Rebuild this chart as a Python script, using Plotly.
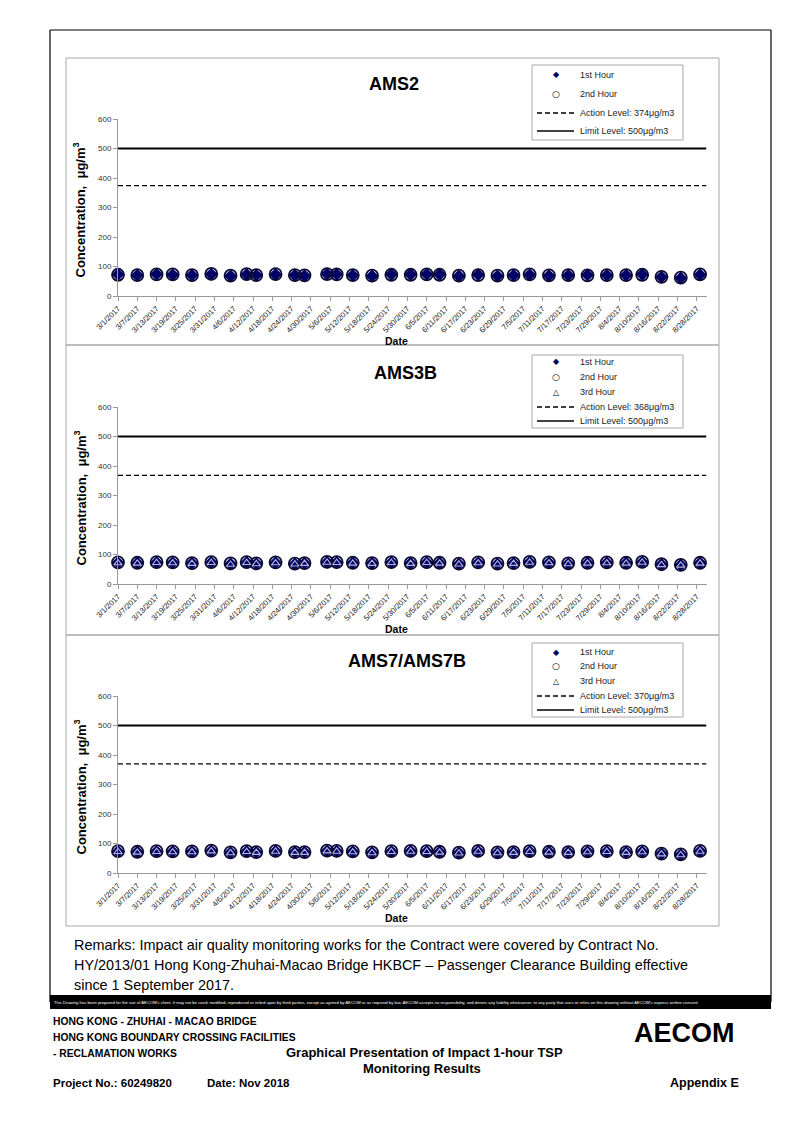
import plotly.graph_objects as go
import pandas as pd

# ---------------- data ----------------
sample_dates = ["3/1/2017", "3/7/2017", "3/13/2017", "3/18/2017", "3/24/2017", "3/30/2017",
                "4/5/2017", "4/10/2017", "4/13/2017", "4/19/2017", "4/25/2017", "4/28/2017",
                "5/5/2017", "5/8/2017", "5/13/2017", "5/19/2017", "5/25/2017", "5/31/2017",
                "6/5/2017", "6/9/2017", "6/15/2017", "6/21/2017", "6/27/2017", "7/2/2017",
                "7/7/2017", "7/13/2017", "7/19/2017", "7/25/2017", "7/31/2017", "8/6/2017",
                "8/11/2017", "8/17/2017", "8/23/2017", "8/29/2017"]

tick_labels = ["3/1/2017", "3/7/2017", "3/13/2017", "3/19/2017", "3/25/2017", "3/31/2017",
               "4/6/2017", "4/12/2017", "4/18/2017", "4/24/2017", "4/30/2017", "5/6/2017",
               "5/12/2017", "5/18/2017", "5/24/2017", "5/30/2017", "6/5/2017", "6/11/2017",
               "6/17/2017", "6/23/2017", "6/29/2017", "7/5/2017", "7/11/2017", "7/17/2017",
               "7/23/2017", "7/29/2017", "8/4/2017", "8/10/2017", "8/16/2017", "8/22/2017",
               "8/28/2017"]

ams2_h1 = [73, 70, 74, 72, 70, 74, 68, 73, 70, 73, 70, 69, 75, 74, 70, 68, 73, 73,
           74, 73, 68, 72, 68, 70, 72, 69, 70, 71, 70, 70, 73, 64, 61, 72]
ams2_h2 = [72, 71, 73, 73, 71, 75, 69, 74, 71, 74, 71, 70, 74, 73, 71, 69, 72, 72,
           73, 72, 69, 71, 69, 71, 73, 70, 71, 70, 71, 71, 72, 65, 62, 73]

ams3b_h1 = [72, 71, 73, 72, 70, 73, 68, 73, 69, 72, 68, 70, 74, 73, 71, 70, 73, 70,
            73, 71, 68, 72, 68, 70, 74, 72, 69, 71, 72, 71, 74, 66, 64, 71]
ams3b_h2 = [73, 72, 74, 73, 71, 74, 70, 74, 70, 73, 69, 71, 75, 74, 72, 71, 74, 71,
            74, 72, 69, 73, 69, 71, 75, 73, 70, 72, 73, 72, 75, 67, 65, 72]
ams3b_h3 = [71, 70, 72, 71, 69, 72, 66, 72, 68, 71, 67, 69, 73, 72, 70, 69, 72, 69,
            72, 70, 67, 71, 67, 69, 73, 71, 68, 70, 71, 70, 73, 65, 63, 70]

ams7_h1 = [73, 71, 73, 72, 72, 75, 69, 73, 70, 74, 70, 70, 75, 74, 72, 69, 73, 74,
           73, 71, 68, 74, 69, 70, 73, 71, 70, 72, 73, 70, 72, 65, 62, 74]
ams7_h2 = [74, 72, 74, 73, 73, 76, 70, 74, 71, 75, 71, 71, 76, 75, 73, 70, 74, 75,
           74, 72, 69, 75, 70, 71, 74, 72, 71, 73, 74, 71, 73, 66, 63, 75]
ams7_h3 = [72, 70, 72, 71, 71, 74, 68, 72, 69, 73, 69, 69, 74, 73, 71, 68, 72, 73,
           72, 70, 67, 73, 68, 69, 72, 70, 69, 71, 72, 69, 71, 64, 61, 73]

stations = ["AMS2", "AMS3B", "AMS7/AMS7B"]
action_levels = [374, 368, 370]
limit_level = 500
axis_start = "2017-03-01"
axis_end = "2017-08-31"

# ---------------- helpers ----------------
W, H = 794, 1122
OFF = 8  # page body margin of the html document
def fx(x): return (x - OFF) / W
def fy(y): return 1 - (y - OFF) / H

x_dates = pd.to_datetime(sample_dates, format="%m/%d/%Y")
tick_vals = pd.to_datetime(tick_labels, format="%m/%d/%Y")

NAVY = "#000066"
FONT = "Liberation Sans, Arial, sans-serif"

fig = go.Figure()
shapes = []
annots = []

series = [
    [ams2_h1, ams2_h2],
    [ams3b_h1, ams3b_h2, ams3b_h3],
    [ams7_h1, ams7_h2, ams7_h3],
]

panels = [
    dict(top=58, bottom=345, y0=296, y600=119, tx=394, ty=84, lb=(532, 65, 683, 140),
         rows=[75, 94, 113, 131]),
    dict(top=345, bottom=635, y0=584, y600=407, tx=405, ty=373, lb=(532, 355, 683, 428),
         rows=[362, 377, 392, 407, 421]),
    dict(top=635, bottom=926, y0=873, y600=696, tx=407, ty=661, lb=(532, 643, 683, 717),
         rows=[652, 666, 681, 696, 710]),
]
X_LEFT, X_RIGHT = 118, 706.5

hour_names = ["1st Hour", "2nd Hour", "3rd Hour"]
hour_styles = [
    dict(symbol="diamond", size=10, color=NAVY, line=dict(width=0)),
    dict(symbol="circle-open", size=12, color="#0b0b33", line=dict(width=1.8)),
    dict(symbol="triangle-up-open", size=7, color="#b8b8d8", line=dict(width=1.1)),
]
legend_glyphs = ["\u25C6", "\u25CB", "\u25B3"]
legend_glyph_sizes = [8, 9, 8]
legend_glyph_colors = [NAVY, "#000000", "#000000"]

for i, (name, p) in enumerate(zip(stations, panels)):
    k = "" if i == 0 else str(i + 1)
    xa, ya = "x" + k, "y" + k
    for h, vals in enumerate(series[i]):
        st = hour_styles[h]
        fig.add_trace(go.Scatter(
            x=x_dates, y=vals, mode="markers", xaxis=xa, yaxis=ya, showlegend=False,
            cliponaxis=False, name=hour_names[h],
            marker=dict(symbol=st["symbol"], size=st["size"], color=st["color"], line=st["line"])))
    fig.add_trace(go.Scatter(x=[axis_start, axis_end], y=[action_levels[i]] * 2, mode="lines",
                             xaxis=xa, yaxis=ya, showlegend=False,
                             line=dict(color="#000000", width=1.3, dash="5px,3px")))
    fig.add_trace(go.Scatter(x=[axis_start, axis_end], y=[limit_level] * 2, mode="lines",
                             xaxis=xa, yaxis=ya, showlegend=False,
                             line=dict(color="#000000", width=1.8)))

    common_x = dict(
        type="date", range=[axis_start, axis_end], domain=[fx(X_LEFT), fx(X_RIGHT)],
        anchor=ya, tickvals=tick_vals, ticktext=tick_labels, tickangle=-45, automargin=False,
        tickfont=dict(family=FONT, size=7.7, color="#222222"),
        showgrid=False, zeroline=False, showline=True, linecolor="#9a9a9a", linewidth=1,
        ticks="outside", ticklen=4, tickcolor="#9a9a9a")
    common_y = dict(
        range=[0, 600], dtick=100, domain=[fy(p["y0"]), fy(p["y600"])], anchor=xa,
        automargin=False,
        tickfont=dict(family=FONT, size=8, color="#333333"),
        showgrid=False, zeroline=False, showline=True, linecolor="#9a9a9a", linewidth=1,
        ticks="outside", ticklen=4, tickcolor="#9a9a9a")
    fig.update_layout(**{("xaxis" + k): common_x, ("yaxis" + k): common_y})

    shapes.append(dict(type="rect", xref="paper", yref="paper",
                       x0=fx(66), x1=fx(719), y0=fy(p["bottom"]), y1=fy(p["top"]),
                       line=dict(color="#a8a8a8", width=1)))
    annots.append(dict(text="<b>%s</b>" % name, x=fx(p["tx"]), y=fy(p["ty"]), xref="paper",
                       yref="paper", showarrow=False, xanchor="center", yanchor="middle",
                       font=dict(family=FONT, size=18, color="#000000")))
    annots.append(dict(text="<b>Concentration,  \u03bcg/m<sup>3</sup></b>", x=fx(80),
                       y=fy((p["y0"] + p["y600"]) / 2 + 3), xref="paper", yref="paper",
                       showarrow=False, textangle=-90, xanchor="center", yanchor="middle",
                       font=dict(family=FONT, size=13, color="#000000")))
    annots.append(dict(text="<b>Date</b>", x=fx(396), y=fy(p["y0"] + 45), xref="paper",
                       yref="paper", showarrow=False, xanchor="center", yanchor="middle",
                       font=dict(family=FONT, size=10.5, color="#000000")))
    bx0, by0, bx1, by1 = p["lb"]
    shapes.append(dict(type="rect", xref="paper", yref="paper", x0=fx(bx0), x1=fx(bx1),
                       y0=fy(by1), y1=fy(by0), line=dict(color="#a8a8a8", width=1),
                       fillcolor="white", layer="above"))
    nh = len(series[i])
    rows = p["rows"]
    labels = hour_names[:nh] + ["Action Level: %d\u03bcg/m3" % action_levels[i],
                                "Limit Level: %d\u03bcg/m3" % limit_level]
    for r, (ry, lab) in enumerate(zip(rows, labels)):
        annots.append(dict(text=lab, x=fx(578), y=fy(ry), xref="paper", yref="paper",
                           showarrow=False, xanchor="left", yanchor="middle",
                           font=dict(family=FONT, size=9, color="#222222")))
        if r < nh:
            annots.append(dict(text=legend_glyphs[r], x=fx(556), y=fy(ry), xref="paper",
                               yref="paper", showarrow=False, xanchor="center",
                               yanchor="middle",
                               font=dict(family="DejaVu Sans", size=legend_glyph_sizes[r],
                                         color=legend_glyph_colors[r])))
        elif r == nh:
            shapes.append(dict(type="line", xref="paper", yref="paper", x0=fx(537), x1=fx(574),
                               y0=fy(ry), y1=fy(ry),
                               line=dict(color="#000000", width=1.3, dash="5px,3px")))
        else:
            shapes.append(dict(type="line", xref="paper", yref="paper", x0=fx(537), x1=fx(574),
                               y0=fy(ry), y1=fy(ry), line=dict(color="#000000", width=1.6)))

# page frame
shapes.append(dict(type="line", xref="paper", yref="paper", x0=fx(50), x1=fx(771),
                   y0=fy(30), y1=fy(30), line=dict(color="#000000", width=1.2)))
shapes.append(dict(type="line", xref="paper", yref="paper", x0=fx(50), x1=fx(50),
                   y0=fy(30), y1=fy(1002), line=dict(color="#000000", width=1.2)))
shapes.append(dict(type="line", xref="paper", yref="paper", x0=fx(771), x1=fx(771),
                   y0=fy(30), y1=fy(1002), line=dict(color="#000000", width=1.2)))
shapes.append(dict(type="rect", xref="paper", yref="paper", x0=fx(50), x1=fx(771),
                   y0=fy(1009), y1=fy(995), line=dict(width=0), fillcolor="#000000"))

annots.append(dict(
    text="This Drawing has been prepared for the use of AECOM's client. It may not be used, modified, "
         "reproduced or relied upon by third parties, except as agreed by AECOM or as required by law. "
         "AECOM accepts no responsibility, and denies any liability whatsoever, to any party that uses "
         "or relies on this drawing without AECOM's express written consent",
    x=fx(52), y=fy(1002), xref="paper", yref="paper", showarrow=False, xanchor="left",
    yanchor="middle", font=dict(family=FONT, size=4.2, color="#ffffff")))

remarks = ["Remarks: Impact air quality monitoring works for the Contract were covered by Contract No.",
           "HY/2013/01 Hong Kong-Zhuhai-Macao Bridge HKBCF \u2013 Passenger Clearance Building effective",
           "since 1 September 2017."]
for j, line in enumerate(remarks):
    annots.append(dict(text=line, x=fx(72), y=fy(945 + 20 * j), xref="paper", yref="paper",
                       showarrow=False, xanchor="left", yanchor="middle",
                       font=dict(family=FONT, size=14.4, color="#000000")))

footer_left = ["HONG KONG - ZHUHAI - MACAO BRIDGE", "HONG KONG BOUNDARY CROSSING FACILITIES",
               "- RECLAMATION WORKS"]
for j, line in enumerate(footer_left):
    annots.append(dict(text="<b>%s</b>" % line, x=fx(51), y=fy(1021 + 16 * j), xref="paper",
                       yref="paper", showarrow=False, xanchor="left", yanchor="middle",
                       font=dict(family=FONT, size=10.3, color="#000000")))
annots.append(dict(text="<b>Graphical Presentation of Impact 1-hour TSP</b>", x=fx(424),
                   y=fy(1052), xref="paper", yref="paper", showarrow=False, xanchor="center",
                   yanchor="middle", font=dict(family=FONT, size=13, color="#000000")))
annots.append(dict(text="<b>Monitoring Results</b>", x=fx(422), y=fy(1068), xref="paper",
                   yref="paper", showarrow=False, xanchor="center", yanchor="middle",
                   font=dict(family=FONT, size=13, color="#000000")))
annots.append(dict(text="<b>Project No.: 60249820</b>", x=fx(51), y=fy(1083), xref="paper",
                   yref="paper", showarrow=False, xanchor="left", yanchor="middle",
                   font=dict(family=FONT, size=11.5, color="#000000")))
annots.append(dict(text="<b>Date: Nov 2018</b>", x=fx(205), y=fy(1083), xref="paper",
                   yref="paper", showarrow=False, xanchor="left", yanchor="middle",
                   font=dict(family=FONT, size=11.5, color="#000000")))
annots.append(dict(text="<b>Appendix E</b>", x=fx(741), y=fy(1083), xref="paper",
                   yref="paper", showarrow=False, xanchor="right", yanchor="middle",
                   font=dict(family=FONT, size=12.5, color="#000000")))
annots.append(dict(text="<b>AECOM</b>", x=fx(737), y=fy(1033), xref="paper", yref="paper",
                   showarrow=False, xanchor="right", yanchor="middle",
                   font=dict(family=FONT, size=27, color="#000000")))

fig.update_layout(
    width=W, height=H, margin=dict(l=0, r=0, t=0, b=0, pad=0, autoexpand=False),
    paper_bgcolor="white", plot_bgcolor="white", showlegend=False,
    shapes=shapes, annotations=annots,
    font=dict(family=FONT),
)

fig.write_html("out.html")
